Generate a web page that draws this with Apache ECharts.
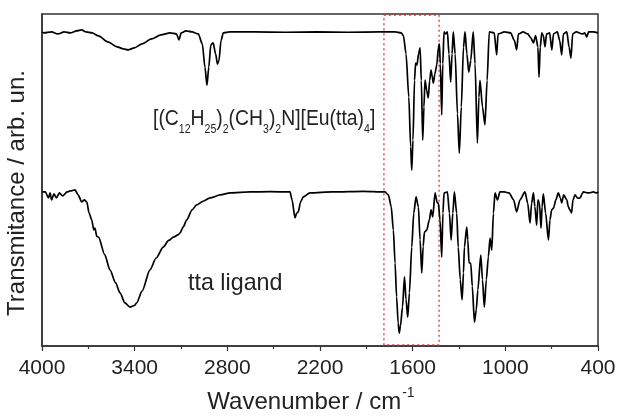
<!DOCTYPE html>
<html><head><meta charset="utf-8">
<script src="https://cdn.jsdelivr.net/npm/echarts@6/dist/echarts.min.js"></script>
<style>html,body{margin:0;padding:0;background:#fff}#c{width:619px;height:417px}</style>
</head><body><div id="c"></div>
<script>
// Upper spectrum: [(C12H25)2(CH3)2N][Eu(tta)4]  [wavenumber / cm-1, transmittance (arb.)]
var complexWn = [4000,3988,3938,3897,3857,3817,3776,3743,3715,3675,3634,3574,3513,3473,3443,3402,3352,3291,3230,3170,3129,3113,3099,3069,3028,2988,2962,2945,2932,2920,2907,2892,2876,2864,2854,2841,2826,2785,2624,2422,2219,2017,1815,1714,1674,1660,1643,1625,1613,1606,1598,1588,1581,1572,1562,1552,1544,1535,1527,1520,1509,1499,1490,1481,1473,1466,1456,1444,1433,1427,1421,1412,1405,1397,1387,1375,1365,1354,1345,1337,1325,1310,1298,1285,1271,1261,1249,1237,1231,1224,1208,1196,1181,1171,1164,1148,1132,1118,1104,1072,1056,1047,1006,966,941,927,915,885,855,835,818,804,789,782,774,764,754,743,733,713,699,688,663,648,635,624,602,587,575,564,541,501,486,473,461,430,400];
var complexT = [94.6,94.3,94.6,94.0,94.6,94.3,94.9,95.2,94.6,94.3,93.4,91.6,90.1,89.5,89.2,89.8,91.0,92.5,93.7,94.3,94.0,92.2,94.3,94.9,94.6,94.0,91.0,84.0,78.6,84.0,90.7,91.3,88.0,84.9,86.0,92.0,94.3,94.6,94.6,94.5,94.6,94.5,94.6,94.6,94.3,93.5,88.0,75.0,60.0,53.0,62.0,80.0,85.2,84.6,88.0,89.8,80.0,62.0,72.0,80.1,77.0,74.7,80.0,83.1,81.0,79.2,82.0,84.6,90.0,91.0,85.0,69.6,85.0,94.6,94.0,94.6,88.0,79.5,88.0,94.6,88.0,70.0,58.1,72.0,90.0,94.6,88.0,82.5,84.0,86.0,94.6,85.0,61.1,75.0,80.0,72.0,66.6,80.0,94.6,94.3,87.7,94.0,94.6,94.3,92.0,89.2,94.0,94.6,94.0,92.8,91.3,93.5,90.0,81.0,90.0,94.3,93.5,90.1,94.0,94.3,89.2,94.0,94.6,92.0,87.7,94.0,94.6,90.0,86.7,94.0,94.6,94.0,94.3,93.1,94.6,94.6,94.3];

// Lower spectrum: tta ligand
var ligandWn = [4000,3978,3958,3948,3938,3923,3907,3887,3867,3837,3817,3786,3766,3743,3726,3710,3695,3678,3665,3657,3645,3634,3594,3560,3523,3495,3463,3430,3402,3387,3352,3301,3261,3215,3180,3149,3119,3107,3084,3063,3028,2999,2957,2912,2846,2782,2653,2523,2394,2381,2362,2351,2341,2325,2308,2265,2118,1916,1792,1779,1757,1739,1725,1714,1704,1694,1687,1679,1666,1653,1643,1632,1621,1606,1593,1578,1563,1552,1541,1532,1524,1509,1492,1481,1470,1455,1441,1434,1423,1412,1404,1397,1375,1362,1351,1340,1330,1315,1305,1292,1280,1271,1265,1250,1243,1235,1224,1214,1200,1188,1178,1159,1148,1136,1123,1110,1099,1088,1077,1067,1051,1035,1006,976,946,927,905,873,855,840,830,818,809,797,789,779,769,762,754,739,721,711,700,688,673,657,643,635,622,602,592,582,571,562,549,531,516,501,495,461,430,409,400];
var ligandT = [46.4,46.4,44.6,46.1,44.0,45.8,44.6,46.1,45.2,46.4,46.7,47.0,45.5,43.4,44.0,43.4,40.0,38.0,35.0,35.5,33.0,32.8,27.5,22.9,19.0,16.0,13.0,11.7,12.2,13.0,16.5,22.9,26.5,29.8,31.8,32.8,33.5,34.0,36.0,38.0,41.0,42.5,43.6,44.6,45.5,46.1,46.4,46.5,46.4,44.0,38.6,40.0,40.4,43.5,44.9,46.1,46.4,46.6,46.4,46.4,45.5,42.0,34.9,25.0,14.8,7.0,3.9,6.0,11.7,20.8,14.0,8.7,16.0,29.8,40.0,44.9,41.9,32.0,22.0,30.0,34.3,34.9,38.0,41.0,38.9,46.1,43.1,43.1,38.0,26.8,40.0,46.1,46.4,40.0,31.9,40.0,46.4,40.0,29.8,20.0,13.9,22.0,29.8,35.8,32.0,25.0,25.0,18.0,7.2,11.0,16.9,27.4,20.0,11.7,20.0,26.8,32.5,28.9,40.0,46.1,44.0,46.4,46.4,46.1,44.0,40.4,44.0,46.4,43.0,37.0,43.0,46.1,42.0,36.4,44.0,43.0,35.5,42.0,45.8,40.0,31.9,38.0,41.0,41.5,44.0,46.1,44.5,43.1,45.5,44.0,41.9,41.0,40.1,44.0,45.5,44.5,44.6,46.0,46.4,46.1,46.4,46.1,46.4];

var xTicks = [400, 4000, 600];          // min, max, interval
var boxWn = [1786, 1429];               // highlighted region (red dotted box)
var boxT = [99.7, 0.3];

function zip(a, b) { return a.map(function (v, i) { return [v, b[i]]; }); }

var chart = echarts.init(document.getElementById('c'), null, {renderer: 'canvas'});
var F = '"Liberation Sans", Arial, sans-serif';
chart.setOption({
  animation: false,
  grid: {left: 42, right: 21, top: 14, bottom: 71, show: true, borderColor: '#333', borderWidth: 1.5,
         backgroundColor: 'transparent', containLabel: false, outerBoundsMode: 'none'},
  xAxis: {
    type: 'value', inverse: true, min: xTicks[0], max: xTicks[1], interval: xTicks[2],
    axisLine: {lineStyle: {color: '#333', width: 1.5}},
    axisTick: {show: true, length: 5, lineStyle: {color: '#333', width: 1.2}},
    minorTick: {show: true, splitNumber: 2, length: 3, lineStyle: {color: '#333', width: 1.2}},
    splitLine: {show: false},
    axisLabel: {color: '#222', fontSize: 21, fontFamily: F, margin: 12, formatter: function (v) { return String(v); }},
    name: '{n|Wavenumber / cm}{s|-1}', nameLocation: 'middle', nameGap: 40,
    nameTextStyle: {padding: [0, 18, 0, 0], rich: {
      n: {fontSize: 24, fontFamily: F, color: '#222', verticalAlign: 'bottom', lineHeight: 28},
      s: {fontSize: 14, fontFamily: F, color: '#222', verticalAlign: 'top', lineHeight: 28, padding: [0, 0, 12, 1]}}}
  },
  yAxis: {
    type: 'value', min: 0, max: 100,
    axisLine: {show: true, lineStyle: {color: '#333', width: 1.5}},
    axisTick: {show: false}, axisLabel: {show: false}, splitLine: {show: false},
    name: 'Transmitance / arb. un.', nameLocation: 'middle', nameGap: 13,
    nameTextStyle: {fontSize: 24, fontFamily: F, color: '#222', padding: [0, 26, 0, 0]}
  },
  series: [
    {type: 'line', data: zip(complexWn, complexT), showSymbol: false, smooth: 0.25, smoothMonotone: 'x',
     lineStyle: {color: '#000', width: 1.7},
     markArea: {silent: true, itemStyle: {color: 'rgba(0,0,0,0)', borderColor: '#e03030', borderWidth: 1.3, borderType: [2, 3]},
       data: [[{xAxis: boxWn[0], yAxis: boxT[0]}, {xAxis: boxWn[1], yAxis: boxT[1]}]]}},
    {type: 'line', data: zip(ligandWn, ligandT), showSymbol: false, smooth: 0.25, smoothMonotone: 'x',
     lineStyle: {color: '#000', width: 1.7}}
  ],
  graphic: [
    {type: 'text', x: 153, y: 102, scaleX: 0.88, style: {
      text: '{m|[(C}{b|12}{m|H}{b|25}{m|)}{b|2}{m|(CH}{b|3}{m|)}{b|2}{m|N][Eu(tta)}{b|4}{m|]}',
      rich: {m: {fontSize: 22, fontFamily: F, fill: '#222', verticalAlign: 'bottom', lineHeight: 28},
             b: {fontSize: 12, fontFamily: F, fill: '#222', verticalAlign: 'bottom', lineHeight: 28, padding: [0, 0, -6, 0]}}}},
    {type: 'text', x: 188, y: 271, scaleX: 0.97, style: {text: 'tta ligand', fontSize: 24, fontFamily: F, fill: '#222'}}
  ]
});
</script></body></html>
